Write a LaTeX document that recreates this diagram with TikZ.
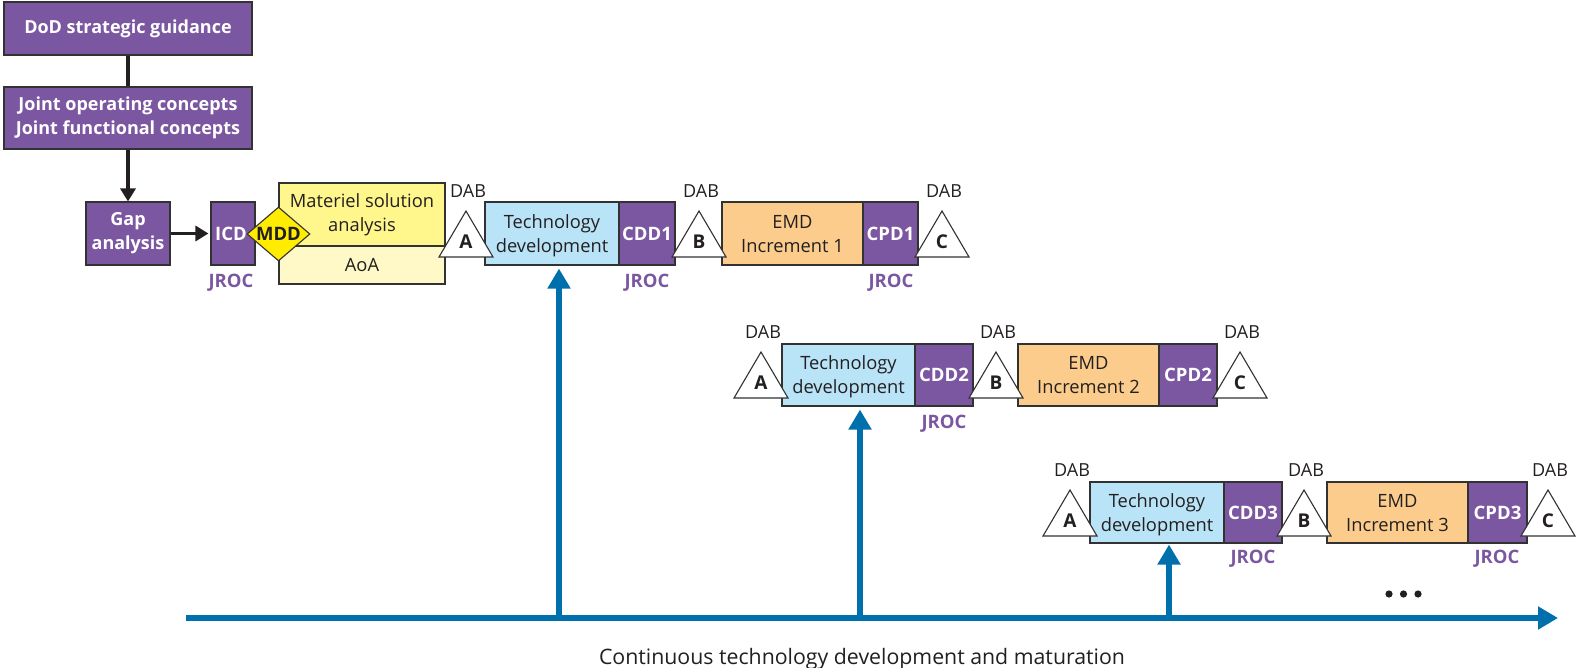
\documentclass[tikz,border=0pt]{standalone}
\usepackage{fontspec}
\setmainfont{Open Sans}
\usetikzlibrary{arrows.meta,shapes.geometric}
\definecolor{purp}{RGB}{124,87,161}
\definecolor{edge}{RGB}{50,50,50}
\definecolor{techblue}{RGB}{185,228,248}
\definecolor{emdorange}{RGB}{252,204,140}
\definecolor{msayellow}{RGB}{255,246,140}
\definecolor{aoayellow}{RGB}{255,249,200}
\definecolor{mddyellow}{RGB}{255,236,0}
\definecolor{axisblue}{RGB}{0,112,173}
\definecolor{txt}{RGB}{35,31,32}
\newcommand\myfs[1]{\fontsize{#1}{24}\selectfont}
\newcommand\bx[7]{\node[#6, minimum width={#4pt-#2pt}, minimum height={#5pt-#3pt}] (#1) at ({(#2+#4)/2},{(#3+#5)/2}) {#7};}
\newcommand\dabtri[4]{%
  \draw[tri] (#2,#3) -- ++(27,46) -- ++(-54,0) -- cycle;
  \node[lettr] (#1) at (#2,#3+31) {#4};
  \node[dablbl] (#1d) at (#2+2,#3-20) {DAB};}
\tikzset{
  base/.style={draw=edge, line width=1.1pt, inner sep=0pt, align=center, text=txt, font=\myfs{18.3}},
  pbox/.style={base, fill=purp, text=white, font=\myfs{18}\bfseries},
  sbox/.style={pbox, font=\myfs{18.5}\bfseries},
  tbox/.style={base, fill=techblue, text depth=-2pt},
  ebox/.style={base, fill=emdorange, text depth=-2pt},
  mbox/.style={base, fill=msayellow},
  abox/.style={base, fill=aoayellow},
  tri/.style={draw=edge, line width=1.1pt, fill=white, line join=miter},
  lettr/.style={inner sep=0pt, text=txt, font=\myfs{19}\bfseries},
  dablbl/.style={inner sep=0pt, text=txt, font=\myfs{18}},
  jroc/.style={inner sep=0pt, text=purp, font=\myfs{18.5}\bfseries},
  conn/.style={draw=txt, line width=3.5pt},
  blarrow/.style={draw=axisblue, line width=6pt, -{Triangle[width=22pt,length=20pt]}},
}
\begin{document}
\begin{tikzpicture}[x=1pt,y=-1pt]
\useasboundingbox (0,0) rectangle (1576,668);
% top chain
\bx{dod}{4}{2}{252}{55}{pbox}{DoD strategic guidance}
\bx{joint}{4}{87}{252}{149}{pbox}{Joint operating concepts\\Joint functional concepts}
\bx{gap}{86}{202}{170}{265}{pbox}{Gap\\analysis}
\bx{icd}{211}{202}{255}{265}{sbox}{\hspace*{-4pt}ICD}
\bx{msa}{279}{183}{445}{246}{mbox}{Materiel solution\\analysis}
\bx{aoa}{279}{246}{445}{284}{abox}{AoA}
\node[diamond, draw=edge, line width=1.1pt, fill=mddyellow, inner sep=0pt, aspect=1.17,
      minimum width=63pt, minimum height=54pt, font=\myfs{18.5}\bfseries, text=txt] (mdd) at (278.5,234) {MDD};
\draw[conn] (dod.south) -- (joint.north);
\draw[conn, -{Triangle[width=15pt,length=13pt]}] (joint.south) -- (gap.north);
\draw[conn, -{Triangle[width=15pt,length=13pt]}, shorten >=2pt] (gap.east) -- (icd.west);
\node[jroc] (j0) at (231,283) {JROC};
% row 1
\bx{tech1}{485}{202}{619}{265}{tbox}{Technology\\development}
\bx{cdd1}{619}{202}{675}{265}{sbox}{CDD1}
\bx{emd1}{722}{202}{863}{265}{ebox}{EMD\\Increment 1}
\bx{cpd1}{863}{202}{918}{265}{sbox}{CPD1}
\dabtri{a1}{466}{211}{A}
\dabtri{b1}{699}{211}{B}
\dabtri{c1}{942}{211}{C}
\node[jroc] (j1) at (647,283) {JROC};
\node[jroc] (j2) at (891,283) {JROC};
% row 2
\bx{tech2}{782}{344}{915}{406}{tbox}{Technology\\development}
\bx{cdd2}{915}{344}{973}{406}{sbox}{CDD2}
\bx{emd2}{1018}{344}{1159}{406}{ebox}{EMD\\Increment 2}
\bx{cpd2}{1159}{344}{1217}{406}{sbox}{CPD2}
\dabtri{a2}{761}{352}{A}
\dabtri{b2}{996}{352}{B}
\dabtri{c2}{1240}{352}{C}
\node[jroc] (j3) at (944,424) {JROC};
% row 3
\bx{tech3}{1090}{482}{1224}{543}{tbox}{Technology\\development}
\bx{cdd3}{1224}{482}{1282}{543}{sbox}{CDD3}
\bx{emd3}{1327}{482}{1468}{543}{ebox}{EMD\\Increment 3}
\bx{cpd3}{1468}{482}{1527}{543}{sbox}{CPD3}
\dabtri{a3}{1070}{490}{A}
\dabtri{b3}{1304}{490}{B}
\dabtri{c3}{1548}{490}{C}
\node[jroc] (j4) at (1253,559) {JROC};
\node[jroc] (j5) at (1497,559) {JROC};
% axis
\coordinate (axs) at (186,618);
\coordinate (axe) at (1558,618);
\coordinate (ax1) at (559,618);
\coordinate (ax2) at (860,618);
\coordinate (ax3) at (1169,618);
\draw[blarrow] (axs) -- (axe);
\draw[blarrow] (ax1) -- ([yshift=-3pt]ax1 |- tech1.south);
\draw[blarrow] (ax2) -- ([yshift=-3pt]ax2 |- tech2.south);
\draw[blarrow] (ax3) -- ([yshift=-1pt]ax3 |- tech3.south);
\fill[txt] (1389,594) circle (3.6) (1403.5,594) circle (3.6) (1418,594) circle (3.6);
\node[inner sep=0pt, text=txt, font=\myfs{21.3}] (cap) at (862,659) {Continuous technology development and maturation};
\end{tikzpicture}
\end{document}
